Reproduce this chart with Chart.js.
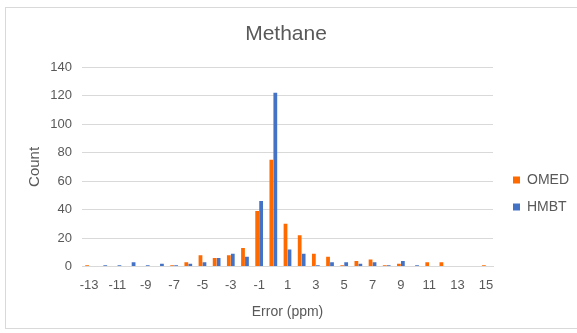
<!DOCTYPE html>
<html>
<head>
<meta charset="utf-8">
<script src="https://cdn.jsdelivr.net/npm/chart.js@4"></script>
<style>
  body { margin: 0; background: #fff; }
  #wrap { position: relative; width: 577px; height: 333px; overflow: hidden; }
  #frame { position: absolute; left: 5px; top: 7px; width: 580px; height: 322px; border: 1px solid #d9d9d9; box-sizing: border-box; }
  #chart { position: absolute; left: 0; top: 0; }
</style>
</head>
<body>
<div id="wrap">
  <div id="frame"></div>
  <canvas id="chart" width="577" height="333"></canvas>
</div>
<script>
// error bins (ppm)
const errors = ['-13','-12','-11','-10','-9','-8','-7','-6','-5','-4','-3','-2','-1','0',
                '1','2','3','4','5','6','7','8','9','10','11','12','13','14','15'];
const omed = [1,0,0,0,0,0,1,3,8,6,8,13,39,75,30,22,9,7,1,4,5,1,2,0,3,3,0,0,1];
const hmbt = [0,1,1,3,1,2,1,2,3,6,9,7,46,122,12,9,1,3,3,2,3,1,4,1,0,0,0,0,0];
const yTicks = [0,20,40,60,80,100,120,140];

const grey = '#595959';
const font = 'Liberation Sans, Arial, sans-serif';

// nudge the legend to where excel put it
const legendShift = {
    id: 'legendShift',
    afterLayout(c) {
        const l = c.legend;
        l.left += 7; l.right += 7;
        l.top += 33; l.bottom += 33;
    }
};

new Chart(document.getElementById('chart'), {
    type: 'bar',
    data: {
        labels: errors,
        datasets: [
            { label: 'OMED', data: omed, backgroundColor: '#ff6a00' },
            { label: 'HMBT', data: hmbt, backgroundColor: '#4472c4' }
        ]
    },
    options: {
        responsive: false,
        animation: false,
        layout: { padding: { left: 0, right: 5, top: 0, bottom: 12 } },
        datasets: { bar: { categoryPercentage: 0.56, barPercentage: 0.95 } },
        plugins: {
            title: {
                display: true,
                text: 'Methane',
                color: grey,
                font: { family: font, size: 21, weight: 'normal' },
                padding: { top: 22, bottom: 20 }
            },
            legend: {
                position: 'right',
                labels: {
                    color: grey,
                    boxWidth: 7,
                    boxHeight: 7,
                    padding: 13,
                    font: { family: font, size: 14 }
                }
            },
            tooltip: { enabled: false }
        },
        scales: {
            x: {
                grid: { display: false, drawTicks: false },
                border: { color: '#d9d9d9' },
                ticks: {
                    color: grey,
                    font: { family: font, size: 13 },
                    autoSkip: false,
                    maxRotation: 0,
                    padding: 11,
                    callback: (v, i) => i % 2 === 0 ? errors[i] : ''
                },
                title: {
                    display: true,
                    text: 'Error (ppm)',
                    color: grey,
                    font: { family: font, size: 14 },
                    padding: { top: 0, bottom: 0 }
                }
            },
            y: {
                min: 0,
                max: 140,
                afterBuildTicks: s => { s.ticks = yTicks.map(v => ({ value: v })); },
                grid: { color: '#d9d9d9', drawTicks: false },
                border: { display: false },
                ticks: {
                    color: grey,
                    font: { family: font, size: 13 },
                    padding: 10
                },
                title: {
                    display: true,
                    text: 'Count',
                    color: grey,
                    font: { family: font, size: 15 },
                    padding: { top: 26, bottom: 8 }
                },
                afterFit: s => { s.width = 82; }
            }
        }
    },
    plugins: [legendShift]
});
</script>
</body>
</html>
